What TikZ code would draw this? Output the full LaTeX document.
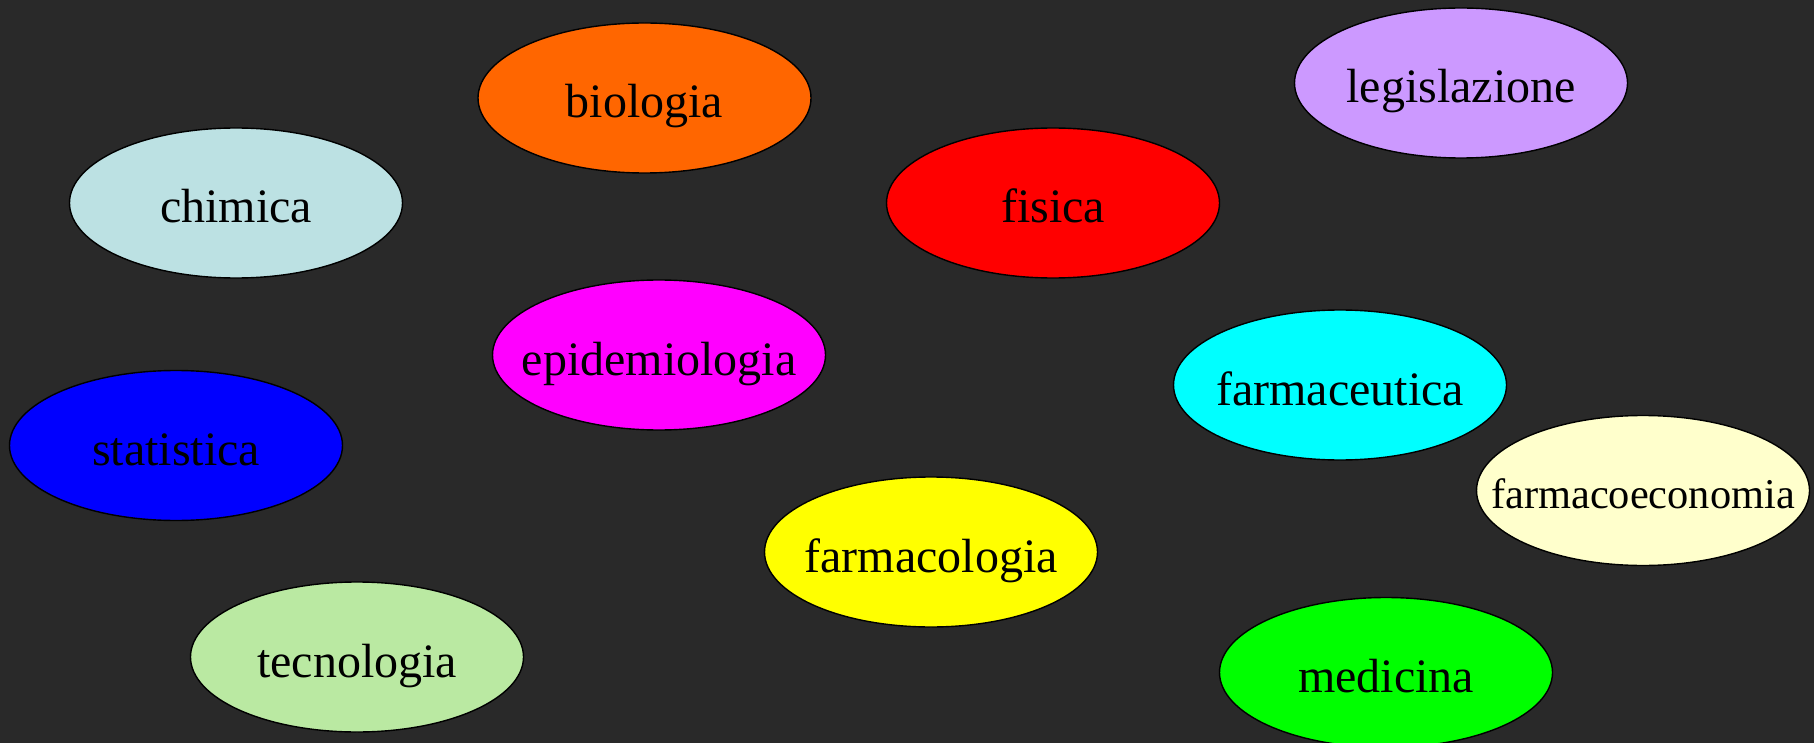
\documentclass[tikz,border=0pt]{standalone}
\usepackage{fontspec}
\setmainfont{Liberation Serif}
\usetikzlibrary{shapes.geometric}
\definecolor{bg}{HTML}{292929}
\definecolor{cbio}{HTML}{FF6600}
\definecolor{cleg}{HTML}{CC99FF}
\definecolor{cchi}{HTML}{BCE1E3}
\definecolor{cfis}{HTML}{FF0000}
\definecolor{cepi}{HTML}{FF00FF}
\definecolor{cfar}{HTML}{00FFFF}
\definecolor{csta}{HTML}{0000FF}
\definecolor{ceco}{HTML}{FFFFCC}
\definecolor{cfcl}{HTML}{FFFF00}
\definecolor{ctec}{HTML}{BAE9A2}
\definecolor{cmed}{HTML}{00FF00}
\tikzset{
  blob/.style={ellipse, draw=black, line width=1.4pt, minimum width=333pt, minimum height=150pt, inner sep=0pt, text height=40pt, text depth=0pt, font=\fontsize{48}{56}\selectfont},
  smallblob/.style={blob, font=\fontsize{42.4}{50}\selectfont, text height=36pt}
}
\newcommand{\zw}[1]{\makebox[0pt]{#1}}
\begin{document}
\begin{tikzpicture}[x=1pt,y=-1pt]
\fill[bg] (0,0) rectangle (1814,743);
\useasboundingbox (0,0) rectangle (1814,743);
\node[blob, fill=cbio] (biologia) at (644.5,98) {\zw{biologia}};
\node[blob, fill=cleg] (legislazione) at (1461,83) {\zw{legislazione}};
\node[blob, fill=cchi] (chimica) at (236,203) {\zw{chimica}};
\node[blob, fill=cfis] (fisica) at (1053,203) {\zw{fisica}};
\node[blob, fill=cepi] (epidemiologia) at (659,355) {\zw{epidemiologia}};
\node[blob, fill=cfar] (farmaceutica) at (1340,385) {\zw{farmaceutica}};
\node[blob, fill=csta] (statistica) at (176,445.5) {\zw{statistica}};
\node[smallblob, fill=ceco] (farmacoeconomia) at (1643,490.5) {\zw{farmacoeconomia}};
\node[blob, fill=cfcl] (farmacologia) at (931,552) {\zw{farmacologia}};
\node[blob, fill=ctec] (tecnologia) at (357,657) {\zw{tecnologia}};
\node[blob, fill=cmed] (medicina) at (1386,672.5) {\zw{medicina}};
\end{tikzpicture}
\end{document}
